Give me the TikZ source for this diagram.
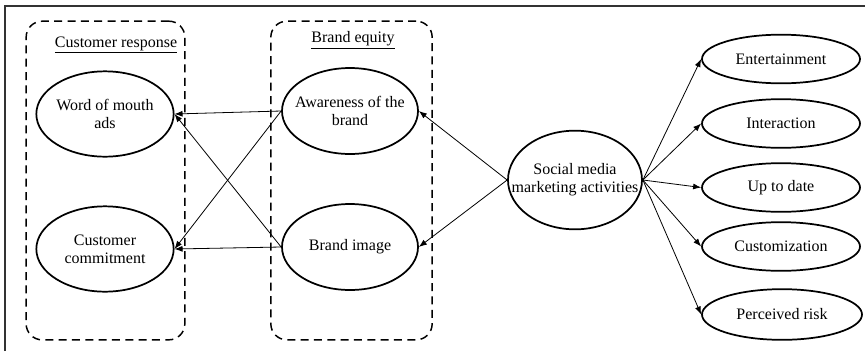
\documentclass[tikz,border=0pt]{standalone}
\usepackage{fontspec}
\setmainfont{Liberation Serif}
\usetikzlibrary{shapes,arrows,positioning,calc,arrows.meta}

\begin{document}
\begin{tikzpicture}[x=0.75pt,y=-0.75pt,
    oval/.style={draw,ellipse,line width=1.3pt,inner xsep=-12pt,inner ysep=0pt,align=center,font=\fontsize{12}{13.5}\selectfont},
    groupbox/.style={draw,dash pattern=on 6pt off 4pt,line width=1.1pt,rounded corners=12pt,minimum width=119pt,minimum height=239pt},
    heading/.style={font=\fontsize{12}{13.5}\selectfont},
    link/.style={-{Latex[length=6pt,width=4.5pt]},line width=0.6pt}]
    \useasboundingbox (0,0) rectangle (865,351);

    % frame
    \draw[line width=0.8pt,black!80] (5,351) -- (5,6) -- (865,6);

    % Customer response
    \node[groupbox] (resp) at (105.5,180.5) {};
    \node[heading] (resplabel) at (116,45) {\underline{Customer response}};
    \node[oval,minimum width=103pt,minimum height=64pt] (wom) at (105,114) {Word of mouth\\ads};
    \node[oval,minimum width=103pt,minimum height=64pt] (commit) at (105,249) {Customer\\commitment};

    % Brand equity
    \node[groupbox,minimum width=121pt] (equity) at (351.5,180.5) {};
    \node[heading] (equitylabel) at (353,40) {\underline{Brand equity}};
    \node[oval,minimum width=102pt,minimum height=64.5pt] (aware) at (350,111) {Awareness of the\\brand};
    \node[oval,minimum width=102pt,minimum height=64.5pt] (image) at (350,247) {Brand image};

    % Social media marketing
    \node[oval,minimum width=100.5pt,minimum height=74pt] (smma) at (575,180) {Social media\\marketing activities};

    % dimensions
    \node[oval,minimum width=118.5pt,minimum height=36.5pt] (ent) at (781,59) {Entertainment};
    \node[oval,minimum width=118.5pt,minimum height=36.5pt] (inter) at (781,123.5) {Interaction};
    \node[oval,minimum width=118.5pt,minimum height=36.5pt] (update) at (781,187.5) {Up to date};
    \node[oval,minimum width=118.5pt,minimum height=36.5pt] (custom) at (781,246.5) {Customization};
    \node[oval,minimum width=120pt,minimum height=38pt] (risk) at (782,314.5) {Perceived risk};

    % arrows
    \draw[link] (aware.west) -- (wom.east);
    \draw[link] (aware.west) -- (commit.east);
    \draw[link] (image.west) -- (wom.east);
    \draw[link] (image.west) -- (commit.east);
    \draw[link] (smma.west) -- (aware.east);
    \draw[link] (smma.west) -- (image.east);
    \foreach \n in {ent,inter,update,custom,risk}
        \draw[link] (smma.east) -- (\n.west);
\end{tikzpicture}
\end{document}
